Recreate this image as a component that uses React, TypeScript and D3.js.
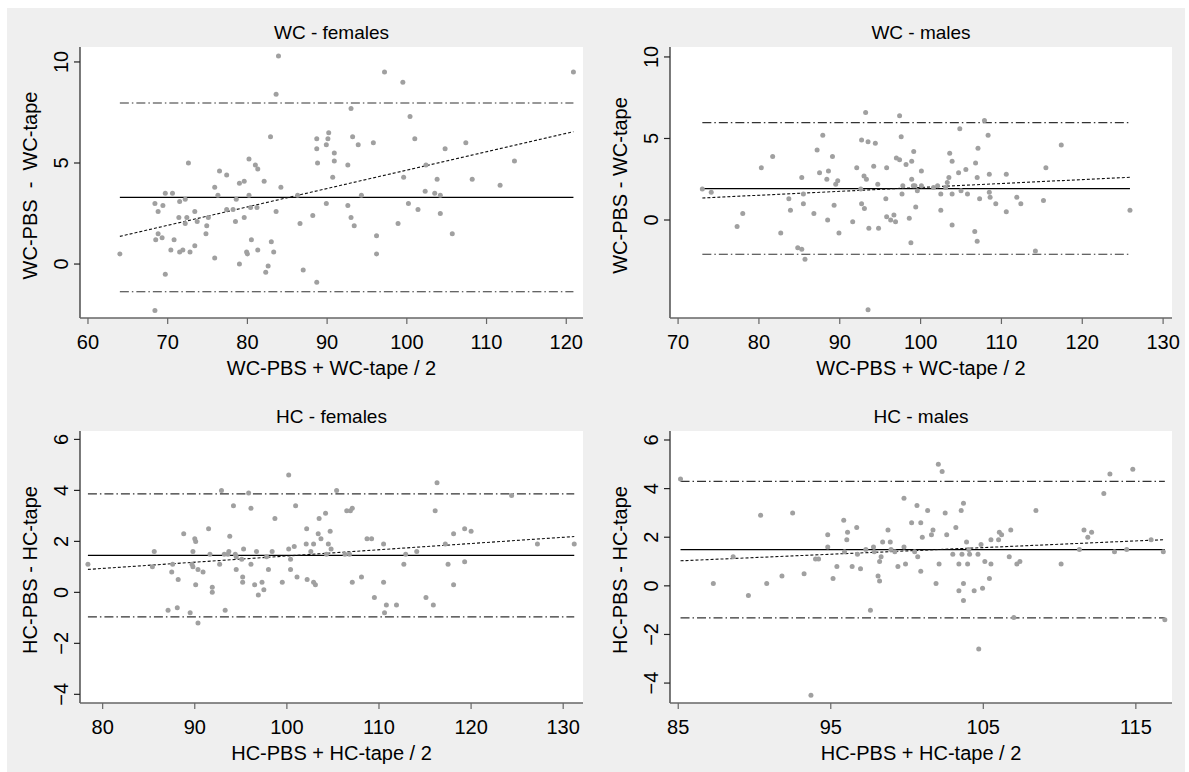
import React from "react";
import * as d3 from "d3";

type Pt = [number, number];

// Bland-Altman data: [mean of methods, difference]
const wcFemales: Pt[] = [
  [64.0, 0.5], [68.4, 3.0], [68.8, 2.6], [68.5, 1.2], [68.8, 1.5], [69.3, 1.3], [69.4, 2.9], [69.7, 3.5],
  [69.7, -0.5], [68.4, -2.3], [70.4, 0.7], [70.6, 3.5], [70.8, 1.2], [71.5, 3.1], [71.4, 2.3], [71.5, 0.6],
  [71.9, 0.7], [72.2, 3.2], [72.2, 2.0], [72.4, 2.3], [72.6, 5.0], [72.8, 0.6], [73.4, 0.9], [73.4, 2.6],
  [73.7, 2.1], [74.8, 1.5], [74.9, 1.9], [75.1, 2.3], [75.9, 3.8], [75.9, 0.3], [76.3, 3.4], [76.5, 4.6],
  [77.4, 2.7], [77.4, 4.4], [78.2, 2.7], [78.5, 2.1], [78.6, 3.2], [79.0, 4.0], [79.0, 0.0], [79.6, 4.1],
  [79.6, 2.3], [79.9, 0.6], [80.0, 0.5], [80.2, 5.2], [80.2, 3.4], [80.4, 2.8], [80.5, 1.2], [81.0, 4.9],
  [81.3, 4.7], [81.2, 2.8], [81.3, 0.7], [82.1, 4.1], [82.3, -0.4], [82.6, -0.1], [82.9, 6.3], [83.0, 1.1],
  [83.3, 0.6], [83.6, 2.6], [83.6, 8.4], [83.9, 10.3], [84.2, 3.8], [86.3, 3.4], [86.6, 2.0], [87.0, -0.3],
  [88.2, 2.4], [88.7, -0.9], [88.7, 6.2], [88.7, 5.7], [88.8, 5.0], [89.9, 3.0], [89.9, 5.9], [90.1, 6.2],
  [90.2, 6.5], [90.7, 4.3], [90.9, 5.1], [90.9, 5.5], [92.6, 4.9], [92.6, 2.9], [93.0, 2.3], [93.0, 7.7],
  [93.2, 6.3], [93.4, 1.9], [93.9, 5.9], [94.3, 3.4], [95.8, 6.0], [96.2, 1.4], [96.2, 0.5], [97.2, 9.5],
  [98.9, 2.0], [99.5, 9.0], [99.6, 4.3], [100.2, 3.0], [100.4, 7.3], [101.0, 6.2], [101.4, 2.7], [102.3, 3.6],
  [102.4, 4.9], [103.5, 3.5], [103.8, 4.2], [104.2, 3.4], [104.2, 2.5], [104.8, 5.7], [105.7, 1.5], [107.4, 6.0],
  [108.2, 4.2], [111.7, 3.9], [113.5, 5.1], [120.9, 9.5],
];

const wcMales: Pt[] = [
  [73.0, 1.9], [74.1, 1.7], [77.3, -0.4], [78.0, 0.4], [80.3, 3.2], [81.7, 3.9], [82.7, -0.8], [83.7, 1.3],
  [83.9, 0.6], [84.8, -1.7], [85.3, -1.8], [85.3, 2.6], [85.5, 1.6], [85.5, 1.0], [85.7, -2.4], [86.8, 0.4],
  [87.2, 4.3], [87.5, 2.9], [87.9, 5.2], [88.4, 2.5], [88.5, 0.0], [88.6, 3.0], [89.1, 3.9], [89.3, 0.9],
  [89.5, 2.2], [89.75, 2.4], [89.9, -0.8], [91.6, -0.1], [92.1, 3.2], [92.7, 4.9], [92.6, 1.9], [92.7, 1.0],
  [93.0, 2.7], [93.05, 0.7], [93.2, 6.6], [93.3, 2.5], [93.5, 4.8], [93.5, -5.5], [93.6, -0.5], [94.2, 3.3],
  [94.4, 4.7], [94.7, 2.2], [94.8, -0.5], [95.7, 1.3], [95.8, 3.2], [95.8, 0.2], [96.3, 0.0], [96.7, 0.3],
  [96.9, -0.1], [97.0, 3.8], [97.4, 6.4], [97.4, 3.7], [97.6, 5.1], [98.2, 3.4], [98.9, 3.6], [99.15, 4.2],
  [98.9, 2.5], [99.1, 2.1], [99.3, 2.1], [99.6, 1.8], [99.4, 0.8], [98.6, 0.1], [98.8, -1.4], [97.8, 2.1],
  [97.7, 1.6], [100.1, 3.0], [100.1, 2.1], [101.6, 2.0], [102.1, 2.1], [102.5, 1.6], [102.5, 0.6], [103.1, 2.0],
  [103.3, 2.3], [103.5, 2.6], [103.6, 4.1], [103.9, 3.6], [103.9, 1.6], [103.9, -0.3], [104.7, 2.9], [104.85, 5.6],
  [105.0, 1.8], [105.6, 3.1], [105.8, 1.6], [106.7, -0.7], [106.8, 3.5], [107.0, 2.6], [107.0, -1.3], [107.1, 4.4],
  [107.3, 1.3], [107.9, 6.1], [108.35, 5.2], [108.5, 2.8], [108.5, 1.7], [108.6, 1.4], [109.3, 1.0], [110.6, 0.5],
  [110.6, 2.8], [111.9, 1.4], [112.4, 1.0], [114.2, -1.9], [115.2, 1.2], [115.5, 3.2], [117.4, 4.6], [125.9, 0.6],
];

const hcFemales: Pt[] = [
  [78.4, 1.1], [85.4, 1.0], [85.6, 1.6], [87.1, -0.7], [87.5, 0.8], [87.6, 1.1], [88.1, -0.6], [88.2, 0.5],
  [88.8, 2.3], [89.5, -0.8], [89.7, 1.1], [89.8, 1.6], [89.8, 1.0], [90.0, 2.1], [90.1, 2.0], [90.1, 0.3],
  [90.35, -1.2], [90.35, 0.9], [90.9, 0.8], [91.5, 2.5], [91.65, 1.5], [91.9, 0.2], [91.9, 0.0], [92.7, 1.1],
  [92.9, 4.0], [93.2, 1.5], [93.3, -0.7], [93.6, 1.5], [93.7, 1.6], [94.2, 3.4], [93.8, 2.2], [94.4, 1.5],
  [94.5, 0.9], [94.5, 1.4], [95.1, 1.3], [95.2, 0.6], [95.2, 0.4], [95.3, 1.7], [95.85, 3.9], [96.1, 1.1],
  [96.1, 3.3], [96.5, 0.3], [96.7, 1.6], [96.9, -0.1], [97.3, 0.4], [97.5, 0.1], [97.8, 1.4], [98.0, 0.9],
  [98.4, 1.6], [98.7, 2.9], [99.5, 0.4], [100.2, 4.6], [100.2, 1.7], [100.4, 1.3], [100.4, 0.9], [100.8, 1.8],
  [100.95, 3.4], [101.1, 0.6], [102.15, 2.5], [102.1, 1.9], [102.2, 0.5], [102.6, 1.6], [102.9, 1.9], [102.9, 0.4],
  [103.1, 0.3], [103.4, 2.3], [103.5, 2.9], [103.7, 2.1], [104.2, 3.1], [104.3, 1.5], [104.5, 1.9], [104.7, 2.4],
  [104.8, 1.7], [105.4, 4.0], [106.5, 3.2], [106.9, 3.2], [107.1, 3.3], [106.3, 1.5], [106.8, 1.5], [107.1, 0.4],
  [108.1, 0.6], [108.7, 2.1], [109.2, 2.1], [109.5, -0.2], [110.5, 1.9], [110.5, 0.4], [110.6, -0.8], [110.8, -0.5],
  [111.9, -0.5], [112.7, 1.1], [112.9, 1.5], [114.1, 1.6], [115.1, -0.2], [115.9, -0.5], [116.1, 3.2], [116.3, 4.3],
  [117.2, 1.9], [117.5, 1.1], [118.1, 2.3], [118.1, 0.3], [119.3, 2.5], [119.3, 1.2], [120.0, 2.4], [124.4, 3.8],
  [127.2, 1.9], [131.2, 1.9],
];

const hcMales: Pt[] = [
  [85.15, 4.4], [87.3, 0.1], [88.6, 1.2], [89.6, -0.4], [90.4, 2.9], [90.8, 0.1], [91.8, 0.4], [92.5, 3.0],
  [93.25, 0.5], [93.7, -4.5], [94.0, 1.1], [94.2, 1.1], [94.8, 2.1], [94.8, 1.6], [95.15, 0.3], [95.4, 0.8],
  [95.85, 2.7], [95.9, 1.4], [96.05, 1.9], [96.1, 2.2], [96.4, 0.8], [96.7, 2.4], [96.75, 1.3], [96.95, 0.7],
  [97.3, 1.5], [97.6, -1.0], [97.8, 1.6], [97.85, 1.4], [98.1, 0.4], [98.2, 1.0], [98.2, 0.2], [98.3, 1.2],
  [98.4, 1.8], [98.75, 2.3], [98.9, 1.8], [98.95, 1.5], [99.2, 1.4], [99.4, 0.8], [99.8, 3.6], [99.8, 1.6],
  [99.9, 0.9], [100.3, 2.6], [100.5, 1.4], [100.65, 3.3], [100.7, 1.2], [100.9, 2.6], [100.9, 0.6], [101.0, 2.0],
  [101.35, 3.1], [101.6, 2.1], [101.7, 2.3], [101.9, 0.1], [102.05, 5.0], [102.1, 0.9], [102.3, 4.7], [102.5, 3.0],
  [102.6, 2.1], [103.0, 1.3], [103.2, 2.4], [103.4, 0.9], [103.4, -0.2], [103.55, 3.1], [103.6, 1.3], [103.7, 3.4],
  [103.7, 0.1], [103.7, -0.6], [103.9, 1.8], [103.97, 0.9], [104.05, 1.5], [104.1, 1.3], [104.4, -0.2], [104.65, 1.3],
  [104.7, -2.6], [104.85, 1.7], [104.95, -0.1], [105.1, 1.0], [105.4, 0.3], [105.5, 0.9], [105.5, 1.9], [106.0, 1.9],
  [106.05, 2.2], [106.2, 2.1], [106.7, 1.2], [106.8, 2.3], [107.0, -1.3], [107.2, 0.9], [107.4, 1.0], [108.45, 3.1],
  [110.1, 0.9], [111.3, 1.5], [111.6, 2.3], [111.85, 2.0], [112.1, 2.2], [112.9, 3.8], [113.3, 4.6], [113.6, 1.4],
  [114.4, 1.5], [114.8, 4.8], [116.0, 1.9], [116.8, 1.4], [116.9, -1.4],
];

// [upper limit, mean difference, lower limit]
const wcFemalesLimits = [7.97, 3.3, -1.37];
const wcMalesLimits = [5.97, 1.92, -2.1];
const hcFemalesLimits = [3.86, 1.45, -0.96];
const hcMalesLimits = [4.3, 1.49, -1.32];

// regression line end points
const wcFemalesFit: Pt[] = [[64.0, 1.37], [120.9, 6.55]];
const wcMalesFit: Pt[] = [[73.0, 1.35], [125.9, 2.62]];
const hcFemalesFit: Pt[] = [[78.4, 0.9], [131.2, 2.19]];
const hcMalesFit: Pt[] = [[85.15, 1.03], [116.9, 1.9]];

// ticks
const wcFemalesXTicks = [60, 70, 80, 90, 100, 110, 120];
const wcMalesXTicks = [70, 80, 90, 100, 110, 120, 130];
const wcYTicks = [0, 5, 10];
const hcFemalesXTicks = [80, 90, 100, 110, 120, 130];
const hcMalesXTicks = [85, 95, 105, 115];
const hcYTicks = [-4, -2, 0, 2, 4, 6];

const FONT = "'Liberation Sans', Arial, Helvetica, sans-serif";

type PanelProps = {
  left: number;
  right: number;
  top: number;
  bottom: number;
  xDomain: [number, number];
  yDomain: [number, number];
  xTicks: number[];
  yTicks: number[];
  points: Pt[];
  limits: number[];
  fit: Pt[];
  title: string;
  xTitle: string;
  yTitle: string;
};

const Panel = ({ left, right, top, bottom, xDomain, yDomain, xTicks, yTicks, points, limits, fit, title, xTitle, yTitle }: PanelProps) => {
  const x = d3.scaleLinear().domain(xDomain).range([left, right]);
  const y = d3.scaleLinear().domain(yDomain).range([bottom, top]);
  const [xmin, xmax] = d3.extent(points, (d) => d[0]) as [number, number];
  const fitPath = d3.line<Pt>().x((d) => x(d[0])).y((d) => y(d[1]))(fit) || "";
  const fmt = (v: number) => (v < 0 ? "\u2212" + Math.abs(v) : String(v));
  const midX = (left + right) / 2;
  const midY = (top + bottom) / 2 + 3;

  return (
    <g fontFamily={FONT} fill="#000">
      <rect x={left} y={top} width={right - left} height={bottom - top} fill="#fff" />
      {limits.map((v, i) => (
        <line
          key={i}
          x1={x(xmin)}
          x2={x(xmax)}
          y1={y(v)}
          y2={y(v)}
          stroke={i === 1 ? "#000" : "#333"}
          strokeWidth={1.2}
          strokeDasharray={i === 1 ? undefined : "9,3,1.5,3"}
        />
      ))}
      <path d={fitPath} fill="none" stroke="#111" strokeWidth={1.1} strokeDasharray="3,2" />
      {points.map((d, i) => (
        <circle key={i} cx={x(d[0])} cy={y(d[1])} r={2.5} fill="#a0a0a0" />
      ))}
      {/* y axis */}
      <line x1={left} x2={left} y1={top} y2={bottom} stroke="#222" strokeWidth={1.2} />
      {yTicks.map((t) => (
        <g key={t}>
          <line x1={left - 6} x2={left} y1={y(t)} y2={y(t)} stroke="#222" strokeWidth={1.2} />
          <text transform={`translate(${left - 12},${y(t)}) rotate(-90)`} textAnchor="middle" fontSize={20}>
            {fmt(t)}
          </text>
        </g>
      ))}
      <text
        transform={`translate(${left - 43},${midY}) rotate(-90)`}
        textAnchor="middle"
        fontSize={20}
        style={{ whiteSpace: "pre" }}
      >
        {yTitle}
      </text>
      {/* x axis */}
      <line x1={left} x2={right} y1={bottom} y2={bottom} stroke="#666" strokeWidth={1.4} />
      {xTicks.map((t) => (
        <g key={t}>
          <line x1={x(t)} x2={x(t)} y1={bottom} y2={bottom + 6} stroke="#666" strokeWidth={1.2} />
          <text x={x(t)} y={bottom + 31} textAnchor="middle" fontSize={20}>
            {t}
          </text>
        </g>
      ))}
      <text x={midX} y={bottom + 57} textAnchor="middle" fontSize={20}>
        {xTitle}
      </text>
      <text x={midX} y={top - 8} textAnchor="middle" fontSize={19}>
        {title}
      </text>
    </g>
  );
};

export default function App() {
  return (
    <svg
      width={1189}
      height={772}
      style={{ position: "absolute", left: 0, top: 0, background: "#fff" }}
    >
      <rect x={7} y={8} width={1178} height={764} fill="#efefef" />
      <Panel
        left={80} right={583} top={47} bottom={318}
        xDomain={[59.0, 122.1]} yDomain={[-2.67, 10.74]}
        xTicks={wcFemalesXTicks} yTicks={wcYTicks}
        points={wcFemales} limits={wcFemalesLimits} fit={wcFemalesFit}
        title="WC - females" xTitle="WC-PBS + WC-tape / 2" yTitle="WC-PBS  -  WC-tape"
      />
      <Panel
        left={670} right={1172} top={47} bottom={318}
        xDomain={[69.0, 131.1]} yDomain={[-6.01, 10.61]}
        xTicks={wcMalesXTicks} yTicks={wcYTicks}
        points={wcMales} limits={wcMalesLimits} fit={wcMalesFit}
        title="WC - males" xTitle="WC-PBS + WC-tape / 2" yTitle="WC-PBS - WC-tape"
      />
      <Panel
        left={80} right={583} top={431} bottom={703}
        xDomain={[77.54, 132.15]} yDomain={[-4.34, 6.33]}
        xTicks={hcFemalesXTicks} yTicks={hcYTicks}
        points={hcFemales} limits={hcFemalesLimits} fit={hcFemalesFit}
        title="HC - females" xTitle="HC-PBS + HC-tape / 2" yTitle="HC-PBS - HC-tape"
      />
      <Panel
        left={670} right={1172} top={431} bottom={703}
        xDomain={[84.46, 117.37]} yDomain={[-4.82, 6.37]}
        xTicks={hcMalesXTicks} yTicks={hcYTicks}
        points={hcMales} limits={hcMalesLimits} fit={hcMalesFit}
        title="HC - males" xTitle="HC-PBS + HC-tape / 2" yTitle="HC-PBS - HC-tape"
      />
    </svg>
  );
}
